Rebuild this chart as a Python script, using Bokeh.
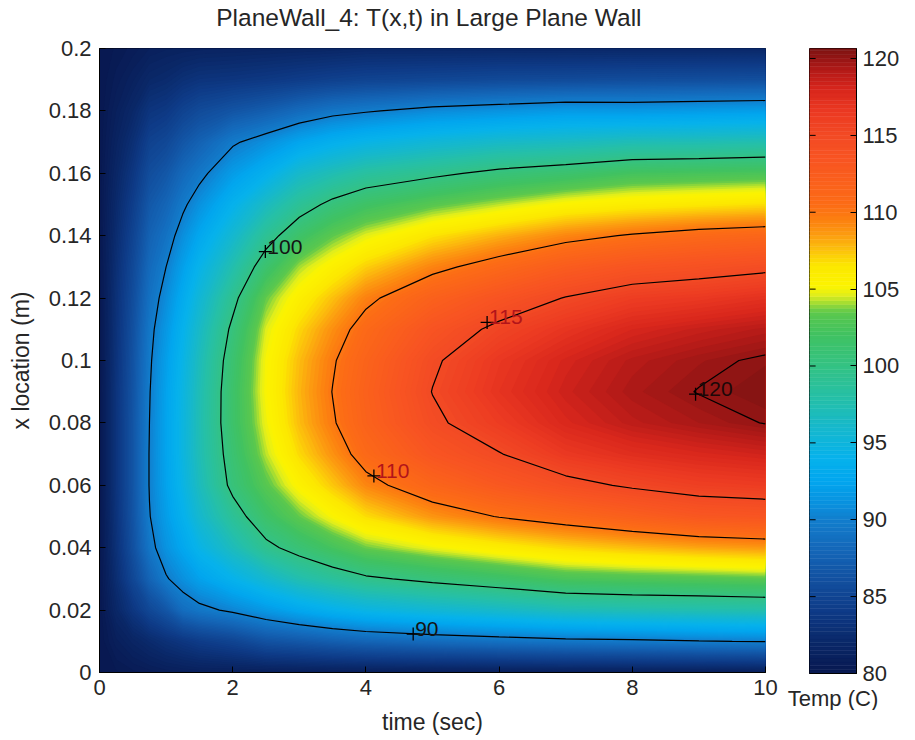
import numpy as np
from bokeh.plotting import figure
from bokeh.layouts import row
from bokeh.models import FixedTicker, Range1d, LinearAxis
from bokeh.embed import file_html
from bokeh.resources import INLINE
from bokeh.core.properties import value

# ---------------- data ----------------
time_s = [0.0, 0.25, 0.5, 0.75, 1.0, 1.25, 1.5, 2.0, 2.5, 3.0, 3.5, 4.0,
          5.0, 6.0, 7.0, 8.0, 9.0, 10.0]
x_loc_m = [0.00, 0.01, 0.02, 0.03, 0.04, 0.05, 0.06, 0.07, 0.08, 0.09, 0.10,
           0.11, 0.12, 0.13, 0.14, 0.15, 0.16, 0.17, 0.18, 0.19, 0.20]

# temperature profiles T(x) (deg C) at each time
T_t0_00 = [80.0, 80.0, 80.0, 80.0, 80.0, 80.0, 80.0, 80.0, 80.0, 80.0, 80.0,
           80.0, 80.0, 80.0, 80.0, 80.0, 80.0, 80.0, 80.0, 80.0, 80.0]
T_t0_25 = [80.2, 80.9, 81.9, 82.6, 83.0, 83.2, 83.3, 83.3, 83.3, 83.3, 83.2,
           83.1, 83.0, 82.8, 82.5, 82.2, 81.8, 81.4, 81.0, 80.6, 80.3]
T_t0_50 = [80.4, 81.6, 83.6, 85.2, 86.1, 86.4, 86.5, 86.5, 86.5, 86.4, 86.3,
           86.1, 85.8, 85.4, 84.9, 84.3, 83.6, 82.8, 82.0, 81.2, 80.6]
T_t0_75 = [80.6, 82.3, 85.3, 87.8, 89.3, 89.9, 90.1, 90.1, 90.0, 89.9, 89.7,
           89.4, 88.9, 88.3, 87.6, 86.8, 85.8, 84.7, 83.4, 82.0, 81.0]
T_t1_00 = [80.8, 83.0, 86.6, 89.8, 91.2, 91.9, 92.3, 92.4, 92.4, 92.3, 92.0,
           91.5, 90.8, 90.0, 89.0, 87.9, 86.7, 85.3, 83.8, 82.3, 81.2]
T_t1_25 = [80.9, 83.6, 88.6, 91.0, 92.7, 93.8, 94.5, 94.8, 94.8, 94.7, 94.4,
           93.9, 93.1, 92.1, 90.9, 89.6, 88.2, 86.6, 84.8, 82.9, 81.3]
T_t1_50 = [81.0, 84.2, 89.4, 92.2, 94.4, 95.9, 96.8, 97.2, 97.3, 97.2, 96.9,
           96.3, 95.4, 94.2, 92.7, 91.1, 89.4, 87.6, 85.6, 83.3, 81.4]
T_t2_00 = [81.0, 85.0, 90.4, 94.0, 96.9, 98.9, 100.6, 101.1, 101.5, 101.5, 101.2,
           100.5, 99.3, 97.6, 95.8, 93.9, 91.8, 89.7, 86.5, 83.5, 81.5]
T_t2_50 = [81.0, 86.3, 91.6, 95.8, 99.4, 101.6, 103.2, 104.3, 104.9, 105.2, 105.1,
           104.6, 103.5, 101.3, 99.0, 96.6, 93.7, 91.0, 87.3, 83.8, 81.6]
T_t3_00 = [81.0, 86.8, 92.8, 97.5, 100.9, 103.5, 105.5, 106.9, 107.7, 107.9, 107.7,
           107.0, 105.8, 104.1, 101.6, 98.9, 96.1, 92.5, 88.4, 84.2, 81.7]
T_t3_50 = [81.0, 87.4, 93.8, 98.6, 102.3, 105.2, 107.4, 108.9, 109.8, 110.05, 109.8,
           109.0, 107.6, 105.7, 103.4, 100.6, 97.3, 93.6, 89.3, 84.6, 81.8]
T_t4_00 = [81.0, 87.9, 94.6, 99.6, 103.6, 106.8, 109.3, 110.9, 111.7, 111.9, 111.6,
           110.9, 109.5, 107.2, 104.7, 101.8, 98.4, 94.4, 89.8, 84.9, 82.0]
T_t5_00 = [81.0, 88.5, 95.5, 100.6, 104.9, 108.8, 111.4, 113.4, 114.6, 115.05, 114.7,
           113.6, 111.9, 109.4, 106.6, 103.2, 99.5, 95.4, 90.7, 85.2, 82.0]
T_t6_00 = [81.0, 89.0, 96.2, 101.5, 106.0, 110.1, 113.0, 114.9, 116.3, 117.0, 116.7,
           115.5, 113.6, 111.0, 108.0, 104.3, 100.6, 96.2, 91.2, 85.5, 82.0]
T_t7_00 = [81.0, 89.4, 97.0, 102.5, 107.0, 111.1, 114.3, 116.6, 117.9, 118.4, 118.1,
           116.9, 115.1, 112.5, 109.3, 105.4, 101.3, 96.6, 91.7, 85.6, 82.0]
T_t8_00 = [81.0, 89.6, 97.3, 102.8, 107.7, 112.1, 115.3, 117.4, 118.9, 119.4, 119.1,
           118.0, 116.2, 113.5, 110.2, 106.0, 102.2, 97.2, 91.6, 85.8, 82.0]
T_t9_00 = [81.0, 89.9, 97.5, 103.0, 108.3, 113.1, 116.0, 117.9, 119.5, 120.05, 119.7,
           118.6, 116.6, 114.0, 110.9, 106.4, 102.4, 97.3, 91.8, 85.9, 82.0]
T_t10_00 = [81.0, 90.1, 97.7, 103.3, 108.7, 113.4, 116.3, 118.3, 120.05, 120.5, 120.2,
            119.1, 117.2, 114.5, 111.3, 106.8, 102.6, 97.6, 92.0, 86.0, 82.0]

contour_levels = [90, 100, 110, 115, 120]

# contour labels (position of the "+" and its text)
label_t = [2.49, 5.82, 4.12, 8.95, 4.71]
label_x = [0.1349, 0.1122, 0.063, 0.0892, 0.0123]
label_text = ["100", "115", "110", "120", "90"]
label_color = ["#141414", "#b3141a", "#b3141a", "#1c0808", "#141414"]

time_ticks = [0, 2, 4, 6, 8, 10]
time_tick_labels = ["0", "2", "4", "6", "8", "10"]
x_ticks = [0, 0.02, 0.04, 0.06, 0.08, 0.1, 0.12, 0.14, 0.16, 0.18, 0.2]
x_tick_labels = ["0", "0.02", "0.04", "0.06", "0.08", "0.1", "0.12", "0.14",
                 "0.16", "0.18", "0.2"]
cbar_ticks = [80, 85, 90, 95, 100, 105, 110, 115, 120]
cbar_min, cbar_max = 80.0, 120.65

TITLE = "PlaneWall_4:  T(x,t) in Large Plane Wall"

# colour map (custom jet-like map of the reference)
cmap_vals = [80, 82, 84, 86, 88, 90, 91, 92.5, 94, 96, 98, 100, 102, 103.5,
             104.6, 105.2, 106.5, 107.5, 108.5, 109.5, 110.5, 112, 113.5, 115,
             116.5, 118, 119.2, 120.65]
cmap_hex = ["#081850", "#0a2868", "#0e3a86", "#124f9e", "#1466b8", "#127ecd",
            "#0a90de", "#02a6ee", "#06b2ec", "#16b8cc", "#26c0a6", "#34c284",
            "#40c262", "#5cc84c", "#e0ee1c", "#fcf400", "#fce800", "#fcc40c",
            "#fc9e10", "#fc8010", "#fc6c16", "#fa601c", "#f85422", "#f24a24",
            "#ec3a22", "#d8261c", "#b41a18", "#7c1212"]

# ---------------- build ----------------
FONT = "Liberation Sans"
TXT = "#262626"

Z = np.array([T_t0_00, T_t0_25, T_t0_50, T_t0_75, T_t1_00, T_t1_25, T_t1_50,
              T_t2_00, T_t2_50, T_t3_00, T_t3_50, T_t4_00, T_t5_00, T_t6_00,
              T_t7_00, T_t8_00, T_t9_00, T_t10_00]).T

_rgb = np.array([[int(h[i:i + 2], 16) for i in (1, 3, 5)] for h in cmap_hex], float)


def cmap(v):
    r, g, b = (np.interp(v, cmap_vals, _rgb[:, k]) for k in range(3))
    return "#%02x%02x%02x" % (int(round(r)), int(round(g)), int(round(b)))


STEP = 0.25
fill_levels = [float(v) for v in np.arange(79.75, 120.90, STEP)]
band_colors = [cmap(0.5 * (a + b)) for a, b in zip(fill_levels[:-1], fill_levels[1:])]

p = figure(frame_width=666, frame_height=624, x_range=Range1d(0, 10),
           y_range=Range1d(0, 0.2), output_backend="svg", toolbar_location=None,
           min_border_left=99, min_border_right=16, min_border_top=44,
           min_border_bottom=20)

xax = p.below[0]
yax = p.left[0]

# the title, drawn as the label of a tick-less axis above the frame
title_axis = LinearAxis(ticker=FixedTicker(ticks=[]), axis_label=TITLE,
                        axis_line_color=None, major_tick_line_color=None,
                        minor_tick_line_color=None, major_label_standoff=0,
                        axis_label_standoff=18, axis_label_text_font=FONT,
                        axis_label_text_font_size="24.5px",
                        axis_label_text_font_style="normal",
                        axis_label_text_color=TXT)
p.add_layout(title_axis, "above")

# stacked filled regions z >= level (each layer lies on the one below: no seams)
z_top = float(Z.max()) + 1.0
for lo, col in zip(fill_levels[:-1], band_colors):
    if lo < Z.max():
        p.contour(x=time_s, y=x_loc_m, z=Z, levels=[lo, z_top],
                  fill_color=col, line_color=None)

p.contour(x=time_s, y=x_loc_m, z=Z, levels=contour_levels,
          line_color="black", line_width=1.2)

p.scatter(label_t, label_x, marker="cross", size=13, line_color="black",
          line_width=1.3)
p.text(label_t, label_x, text=label_text, text_color=label_color,
       text_font=value(FONT), text_font_size="21px", text_baseline="alphabetic",
       x_offset=2, y_offset=-5)

p.xgrid.visible = False
p.ygrid.visible = False
p.outline_line_color = "black"
p.background_fill_color = "white"

xax.ticker = FixedTicker(ticks=time_ticks)
xax.major_label_overrides = {t: s for t, s in zip(time_ticks, time_tick_labels)}
yax.ticker = FixedTicker(ticks=x_ticks)
yax.major_label_overrides = {t: s for t, s in zip(x_ticks, x_tick_labels)}
xax.axis_label = "time (sec)"
yax.axis_label = "x location (m)"
for ax in (xax, yax):
    ax.minor_tick_line_color = None
    ax.major_tick_in = 6
    ax.major_tick_out = 0
    ax.major_tick_line_color = "black"
    ax.axis_line_color = "black"
    ax.major_label_text_font = FONT
    ax.major_label_text_font_size = "22px"
    ax.major_label_text_color = TXT
    ax.axis_label_text_font = FONT
    ax.axis_label_text_font_size = "23px"
    ax.axis_label_text_font_style = "normal"
    ax.axis_label_text_color = TXT
xax.major_label_standoff = 7
xax.axis_label_standoff = 11
yax.major_label_standoff = 8
yax.axis_label_standoff = 12

# ---------------- colour bar ----------------
cb = figure(frame_width=47, frame_height=625, x_range=Range1d(0, 1),
            y_range=Range1d(cbar_min, cbar_max), output_backend="svg",
            toolbar_location=None, y_axis_location="right",
            min_border_left=28, min_border_right=46, min_border_top=45,
            min_border_bottom=20)
cb.quad(left=0, right=1, bottom=fill_levels[:-1], top=fill_levels[1:],
        fill_color=band_colors, line_color=band_colors, line_width=0.5)
# inner tick marks on the left edge of the bar
cb.segment(x0=0, x1=0.13, y0=cbar_ticks, y1=cbar_ticks, line_color="black",
           line_width=1)
cb.xgrid.visible = False
cb.ygrid.visible = False
cb.outline_line_color = "black"
cbx = cb.below[0]
cby = cb.right[0]
cby.ticker = FixedTicker(ticks=cbar_ticks)
cby.minor_tick_line_color = None
cby.major_tick_in = 6
cby.major_tick_out = 0
cby.major_tick_line_color = "black"
cby.axis_line_color = "black"
cby.major_label_text_font = FONT
cby.major_label_text_font_size = "22px"
cby.major_label_text_color = TXT
cby.major_label_standoff = 6
cbx.ticker = FixedTicker(ticks=[])
cbx.minor_tick_line_color = None
cbx.major_tick_line_color = None
cbx.axis_line_color = "black"
cbx.axis_label = "Temp (C)"
cbx.axis_label_text_font = FONT
cbx.axis_label_text_font_size = "22px"
cbx.axis_label_text_font_style = "normal"
cbx.axis_label_text_color = TXT
cbx.axis_label_standoff = 12

layout = row(p, cb)
open("out.html", "w").write(file_html(layout, INLINE))
